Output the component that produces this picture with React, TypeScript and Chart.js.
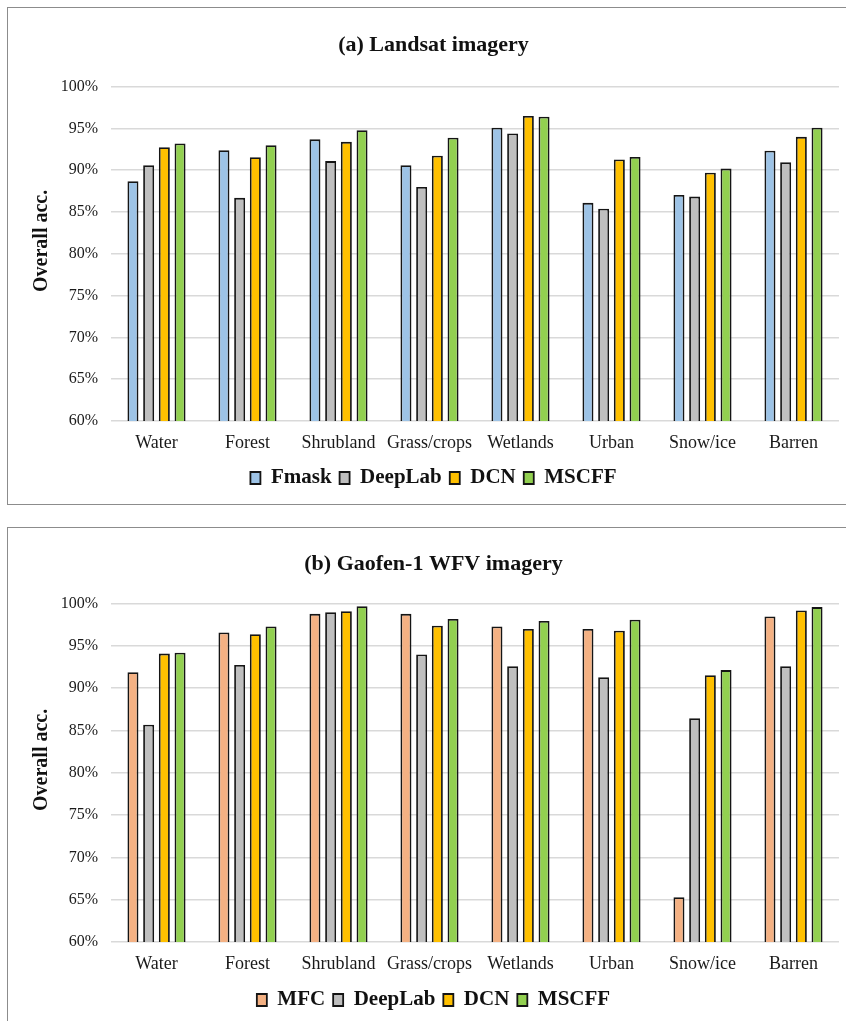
import React, { useEffect, useRef } from "react";
import { Chart, registerables } from "chart.js";

Chart.register(...registerables);

const categories = ["Water", "Forest", "Shrubland", "Grass/crops", "Wetlands", "Urban", "Snow/ice", "Barren"];
const yMin = 60;
const yMax = 100;
const yStep = 5;
const yAxisTitle = "Overall acc.";

const landsatTitle = "(a) Landsat imagery";
const landsatNames = ["Fmask", "DeepLab", "DCN", "MSCFF"];
const landsatFmask = [88.7, 92.4, 93.7, 90.6, 95.1, 86.1, 87.05, 92.35];
const landsatDeepLab = [90.6, 86.7, 91.1, 88.0, 94.4, 85.4, 86.85, 90.95];
const landsatDCN = [92.75, 91.55, 93.4, 91.75, 96.5, 91.3, 89.7, 94.0];
const landsatMSCFF = [93.2, 93.0, 94.8, 93.9, 96.4, 91.6, 90.2, 95.1];

const gaofenTitle = "(b) Gaofen-1 WFV imagery";
const gaofenNames = ["MFC", "DeepLab", "DCN", "MSCFF"];
const gaofenMFC = [91.9, 96.6, 98.8, 98.8, 97.3, 97.0, 65.3, 98.5];
const gaofenDeepLab = [85.7, 92.75, 99.0, 94.0, 92.6, 91.3, 86.45, 92.6];
const gaofenDCN = [94.1, 96.4, 99.1, 97.4, 97.0, 96.8, 91.55, 99.2];
const gaofenMSCFF = [94.2, 97.3, 99.7, 98.2, 97.95, 98.1, 92.15, 99.6];

const landsatColors = ["#9DC3E6", "#BFBFBF", "#FFC000", "#92D050"];
const gaofenColors = ["#F4B183", "#BFBFBF", "#FFC000", "#92D050"];

const FONT = "'Times New Roman', 'Liberation Serif', serif";

const yTitlePlugin = {
  id: "yTitleCustom",
  afterDraw(chart: any, _args: any, opts: any) {
    const { ctx, chartArea } = chart;
    ctx.save();
    ctx.translate(opts.x, (chartArea.top + chartArea.bottom) / 2 - opts.shift);
    ctx.rotate(-Math.PI / 2);
    ctx.font = `bold 20px ${FONT}`;
    ctx.fillStyle = "#111";
    ctx.textAlign = "center";
    ctx.textBaseline = "middle";
    ctx.fillText(opts.text, 0, 0);
    ctx.restore();
  },
};

type PanelProps = {
  title: string;
  names: string[];
  series: number[][];
  colors: string[];
  top: number;
  height: number;
  padBottom: number;
  titlePadTop: number;
  titlePadBottom: number;
  xHeight: number;
};

function Panel(props: PanelProps) {
  const ref = useRef<HTMLCanvasElement | null>(null);
  useEffect(() => {
    if (!ref.current) return;
    const chart = new Chart(ref.current, {
      type: "bar",
      data: {
        labels: categories,
        datasets: props.series.map((vals, i) => ({
          label: props.names[i],
          data: vals,
          backgroundColor: props.colors[i],
          borderColor: "#151515",
          borderWidth: 1.8,
          categoryPercentage: 0.69,
          barPercentage: 0.7,
        })),
      },
      plugins: [yTitlePlugin],
      options: {
        responsive: false,
        animation: false,
        devicePixelRatio: 1,
        layout: { padding: { left: 20, right: 15, top: 0, bottom: props.padBottom } },
        plugins: {
          tooltip: { enabled: false },
          yTitleCustom: { text: yAxisTitle, x: 34, shift: 13 },
          title: {
            display: true,
            text: props.title,
            color: "#111",
            font: { family: FONT, size: 22, weight: "bold", lineHeight: 1.2 },
            padding: { top: props.titlePadTop, bottom: props.titlePadBottom },
          },
          legend: {
            display: true,
            position: "bottom",
            labels: {
              color: "#111",
              boxWidth: 10,
              boxHeight: 12,
              padding: 8,
              font: { family: FONT, size: 21, weight: "bold", lineHeight: 1.2 },
            },
          },
        } as any,
        scales: {
          x: {
            grid: { display: false, drawTicks: false },
            border: { display: false },
            ticks: {
              color: "#1a1a1a",
              font: { family: FONT, size: 18, lineHeight: 1.2 },
              padding: 11,
              maxRotation: 0,
              autoSkip: false,
            },
            afterFit: (scale: any) => {
              scale.height = props.xHeight;
            },
          },
          y: {
            min: yMin,
            max: yMax,
            grid: { color: "#d9d9d9", lineWidth: 1.6, drawTicks: false },
            border: { display: false },
            ticks: {
              stepSize: yStep,
              color: "#1a1a1a",
              font: { family: FONT, size: 16, lineHeight: 1.2 },
              padding: 13,
              callback: (v: any) => `${v}%`,
            },
            title: { display: false },
            afterFit: (scale: any) => {
              scale.width = 83;
            },
          },
        },
      },
    });
    return () => chart.destroy();
  }, []);
  return (
    <div
      style={{
        position: "absolute",
        left: 7,
        top: props.top - 1,
        width: 880,
        height: props.height + 2,
        border: "1px solid #8c8c8c",
        boxSizing: "border-box",
        background: "#fff",
      }}
    >
      <canvas
        ref={ref}
        width={846}
        height={props.height}
        style={{ position: "absolute", left: 0, top: 0, width: 846, height: props.height }}
      />
    </div>
  );
}

export default function App() {
  return (
    <div
      style={{
        position: "absolute",
        left: 0,
        top: 0,
        width: 846,
        height: 1021,
        overflow: "hidden",
        background: "#fff",
      }}
    >
      <Panel
        title={landsatTitle}
        names={landsatNames}
        series={[landsatFmask, landsatDeepLab, landsatDCN, landsatMSCFF]}
        colors={landsatColors}
        top={8}
        height={496}
        padBottom={5.5}
        titlePadTop={23.8}
        titlePadBottom={28.5}
        xHeight={38.5}
      />
      <Panel
        title={gaofenTitle}
        names={gaofenNames}
        series={[gaofenMFC, gaofenDeepLab, gaofenDCN, gaofenMSCFF]}
        colors={gaofenColors}
        top={528}
        height={510}
        padBottom={17.5}
        titlePadTop={23.3}
        titlePadBottom={26.0}
        xHeight={39.5}
      />
    </div>
  );
}
